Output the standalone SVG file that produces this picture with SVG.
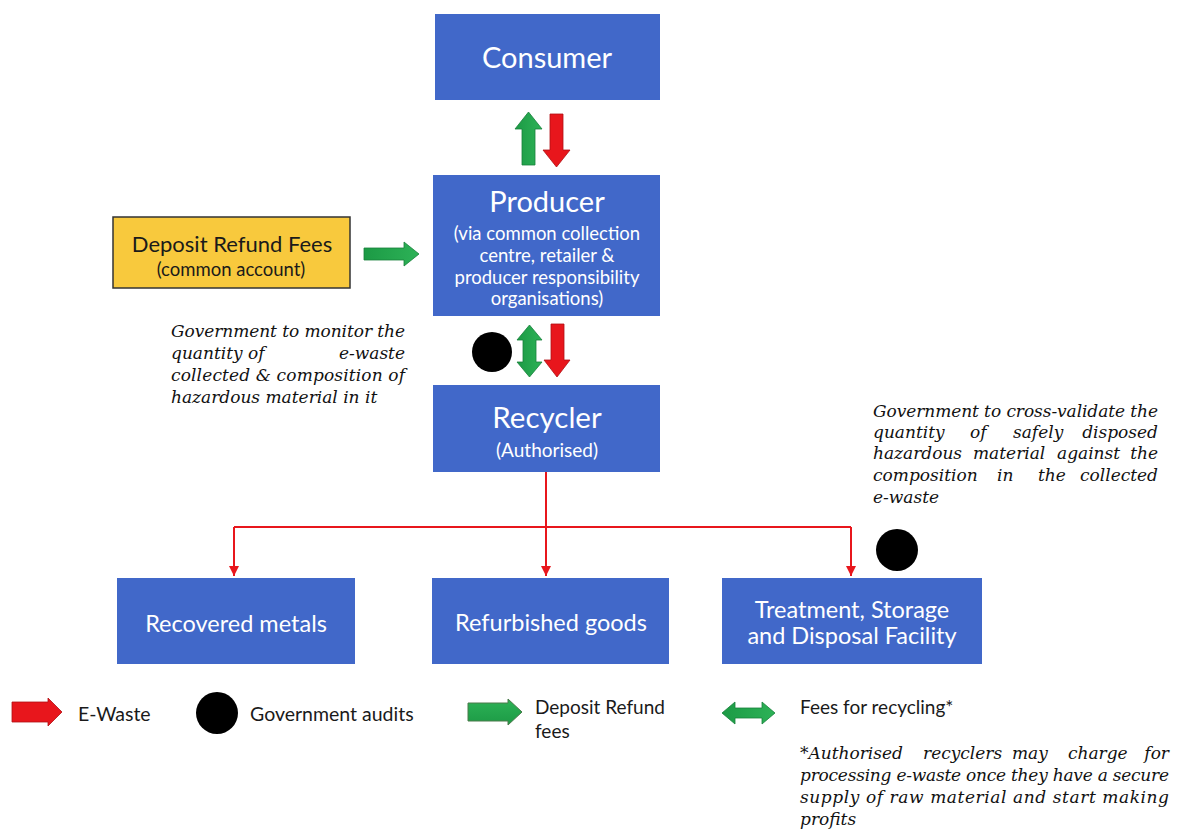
<svg xmlns="http://www.w3.org/2000/svg" width="1178" height="830" viewBox="0 0 1178 830">
  <defs>
    <style>
      .box { fill: #4168C9; }
      .lbl { font-family: Lato, "Open Sans", sans-serif; fill: #ffffff; text-anchor: middle; }
      .dark { font-family: Lato, "Open Sans", sans-serif; fill: #1a1a1a; }
      .note { font-family: "DejaVu Serif", "Liberation Serif", serif; font-style: italic; font-size: 17px; fill: #111111; }
      .flow { fill: none; stroke: #E8161C; stroke-width: 2; }
      .red { fill: #E8161C; stroke: #B01014; stroke-width: 0.8; }
      .green { fill: url(#gGreen); stroke: #16803a; stroke-width: 0.8; }
      .dot { fill: #000000; }
    </style>
    <linearGradient id="gGreen" x1="0" y1="0" x2="1" y2="0">
      <stop offset="0" stop-color="#1C9A45"/>
      <stop offset="1" stop-color="#2DB257"/>
    </linearGradient>
    <linearGradient id="gGreenH" x1="0" y1="0" x2="0" y2="1">
      <stop offset="0" stop-color="#2DB257"/>
      <stop offset="1" stop-color="#1C9A45"/>
    </linearGradient>
    <marker id="tip" viewBox="0 0 10 10" refX="10" refY="5" markerWidth="5" markerHeight="5" orient="auto">
      <path d="M0,0 L10,5 L0,10 z" fill="#E8161C"/>
    </marker>
  </defs>

  <rect width="1178" height="830" fill="#ffffff"/>

  <!-- main chain -->
  <g id="consumer">
    <rect class="box" x="435" y="14" width="225" height="86"/>
    <text class="lbl" x="547" y="68" font-size="29">Consumer</text>
  </g>

  <g id="producer">
    <rect class="box" x="433" y="175" width="227" height="141"/>
    <text class="lbl" x="547" y="212" font-size="29">Producer</text>
    <text class="lbl" x="547" y="240" font-size="18.5">(via common collection</text>
    <text class="lbl" x="547" y="262" font-size="18.5">centre, retailer &amp;</text>
    <text class="lbl" x="547" y="284" font-size="18.5">producer responsibility</text>
    <text class="lbl" x="547" y="305" font-size="18.5">organisations)</text>
  </g>

  <g id="recycler">
    <rect class="box" x="433" y="385" width="227" height="87"/>
    <text class="lbl" x="547" y="428" font-size="29.5">Recycler</text>
    <text class="lbl" x="547" y="457" font-size="19">(Authorised)</text>
  </g>

  <g id="deposit">
    <rect x="113" y="217" width="237" height="71" fill="#F8C93D" stroke="#333333" stroke-width="1.5"/>
    <text class="dark" x="232" y="252" font-size="22" text-anchor="middle">Deposit Refund Fees</text>
    <text class="dark" x="231" y="276" font-size="18.5" text-anchor="middle">(common account)</text>
  </g>

  <g id="recovered">
    <rect class="box" x="117" y="578" width="238" height="86"/>
    <text class="lbl" x="236" y="632" font-size="23.5">Recovered metals</text>
  </g>

  <g id="refurbished">
    <rect class="box" x="432" y="578" width="237" height="86"/>
    <text class="lbl" x="551" y="631" font-size="23.5">Refurbished goods</text>
  </g>

  <g id="tsdf">
    <rect class="box" x="722" y="578" width="260" height="86"/>
    <text class="lbl" x="852" y="618" font-size="23.5">Treatment, Storage</text>
    <text class="lbl" x="852" y="644" font-size="23.5">and Disposal Facility</text>
  </g>

  <!-- connectors and flow arrows -->
  <g id="connectors">
    <path class="flow" d="M546,472 V527"/>
    <path class="flow" d="M234,527 H851"/>
    <path class="flow" d="M234,527 V576" marker-end="url(#tip)"/>
    <path class="flow" d="M546,527 V576" marker-end="url(#tip)"/>
    <path class="flow" d="M851,527 V576" marker-end="url(#tip)"/>

    <!-- consumer / producer -->
    <polygon class="green" points="528.5,112 542,129 535,129 535,165 522,165 522,129 515,129"/>
    <polygon class="red" points="550,114 563,114 563,150 570,150 556.5,167 543,150 550,150"/>

    <!-- producer / recycler -->
    <polygon class="green" points="529.5,325 542,340 536,340 536,362 542,362 529.5,377 517,362 523,362 523,340 517,340"/>
    <polygon class="red" points="551,324 564,324 564,360 570,360 557,377 544,360 551,360"/>

    <!-- deposit fees into producer -->
    <polygon class="green" points="364,248 404,248 404,242 419,254 404,266 404,260 364,260"/>
  </g>

  <!-- government audit points -->
  <g id="audits">
    <circle class="dot" cx="492" cy="352" r="20"/>
    <circle class="dot" cx="897" cy="550" r="21"/>
  </g>

  <!-- annotations -->
  <g id="note-monitor" class="note">
    <text x="171" y="337" textLength="234" lengthAdjust="spacing">Government to monitor the</text>
    <text y="359"><tspan x="171">quantity</tspan><tspan x="248">of</tspan><tspan x="405" text-anchor="end">e-waste</tspan></text>
    <text x="171" y="381" textLength="234" lengthAdjust="spacing">collected &amp; composition of</text>
    <text x="171" y="403">hazardous material in it</text>
  </g>

  <g id="note-validate" class="note">
    <text x="873" y="417" textLength="285" lengthAdjust="spacing">Government to cross-validate the</text>
    <text y="438"><tspan x="873">quantity</tspan><tspan x="970">of</tspan><tspan x="1013">safely</tspan><tspan x="1158" text-anchor="end">disposed</tspan></text>
    <text y="459"><tspan x="873">hazardous</tspan><tspan x="973">material</tspan><tspan x="1057">against</tspan><tspan x="1158" text-anchor="end">the</tspan></text>
    <text y="481"><tspan x="873">composition</tspan><tspan x="997">in</tspan><tspan x="1038">the</tspan><tspan x="1158" text-anchor="end">collected</tspan></text>
    <text x="873" y="503">e-waste</text>
  </g>

  <!-- legend -->
  <g id="legend">
    <polygon class="red" points="12,702 48,702 48,698 62,712 48,726 48,722 12,722"/>
    <text class="dark" x="78" y="721" font-size="19.5">E-Waste</text>
    <circle class="dot" cx="217" cy="713" r="21"/>
    <text class="dark" x="250" y="721" font-size="19.5">Government audits</text>
    <polygon points="468,703 508,703 508,699 522,712 508,725 508,721 468,721" fill="url(#gGreenH)" stroke="#4a7a4a" stroke-width="1"/>
    <text class="dark" x="535" y="714" font-size="19">Deposit Refund</text>
    <text class="dark" x="535" y="738" font-size="19">fees</text>
    <polygon class="green" points="722,713 735,702 735,708 762,708 762,702 775,713 762,724 762,718 735,718 735,724"/>
    <text class="dark" x="800" y="714" font-size="19">Fees for recycling*</text>
  </g>

  <g id="note-fees" class="note">
    <text y="759"><tspan x="800">*Authorised</tspan><tspan x="923">recyclers</tspan><tspan x="1012">may</tspan><tspan x="1068">charge</tspan><tspan x="1169" text-anchor="end">for</tspan></text>
    <text x="800" y="781" textLength="369" lengthAdjust="spacing">processing e-waste once they have a secure</text>
    <text x="800" y="803" textLength="369" lengthAdjust="spacing">supply of raw material and start making</text>
    <text x="800" y="825">profits</text>
  </g>
</svg>
